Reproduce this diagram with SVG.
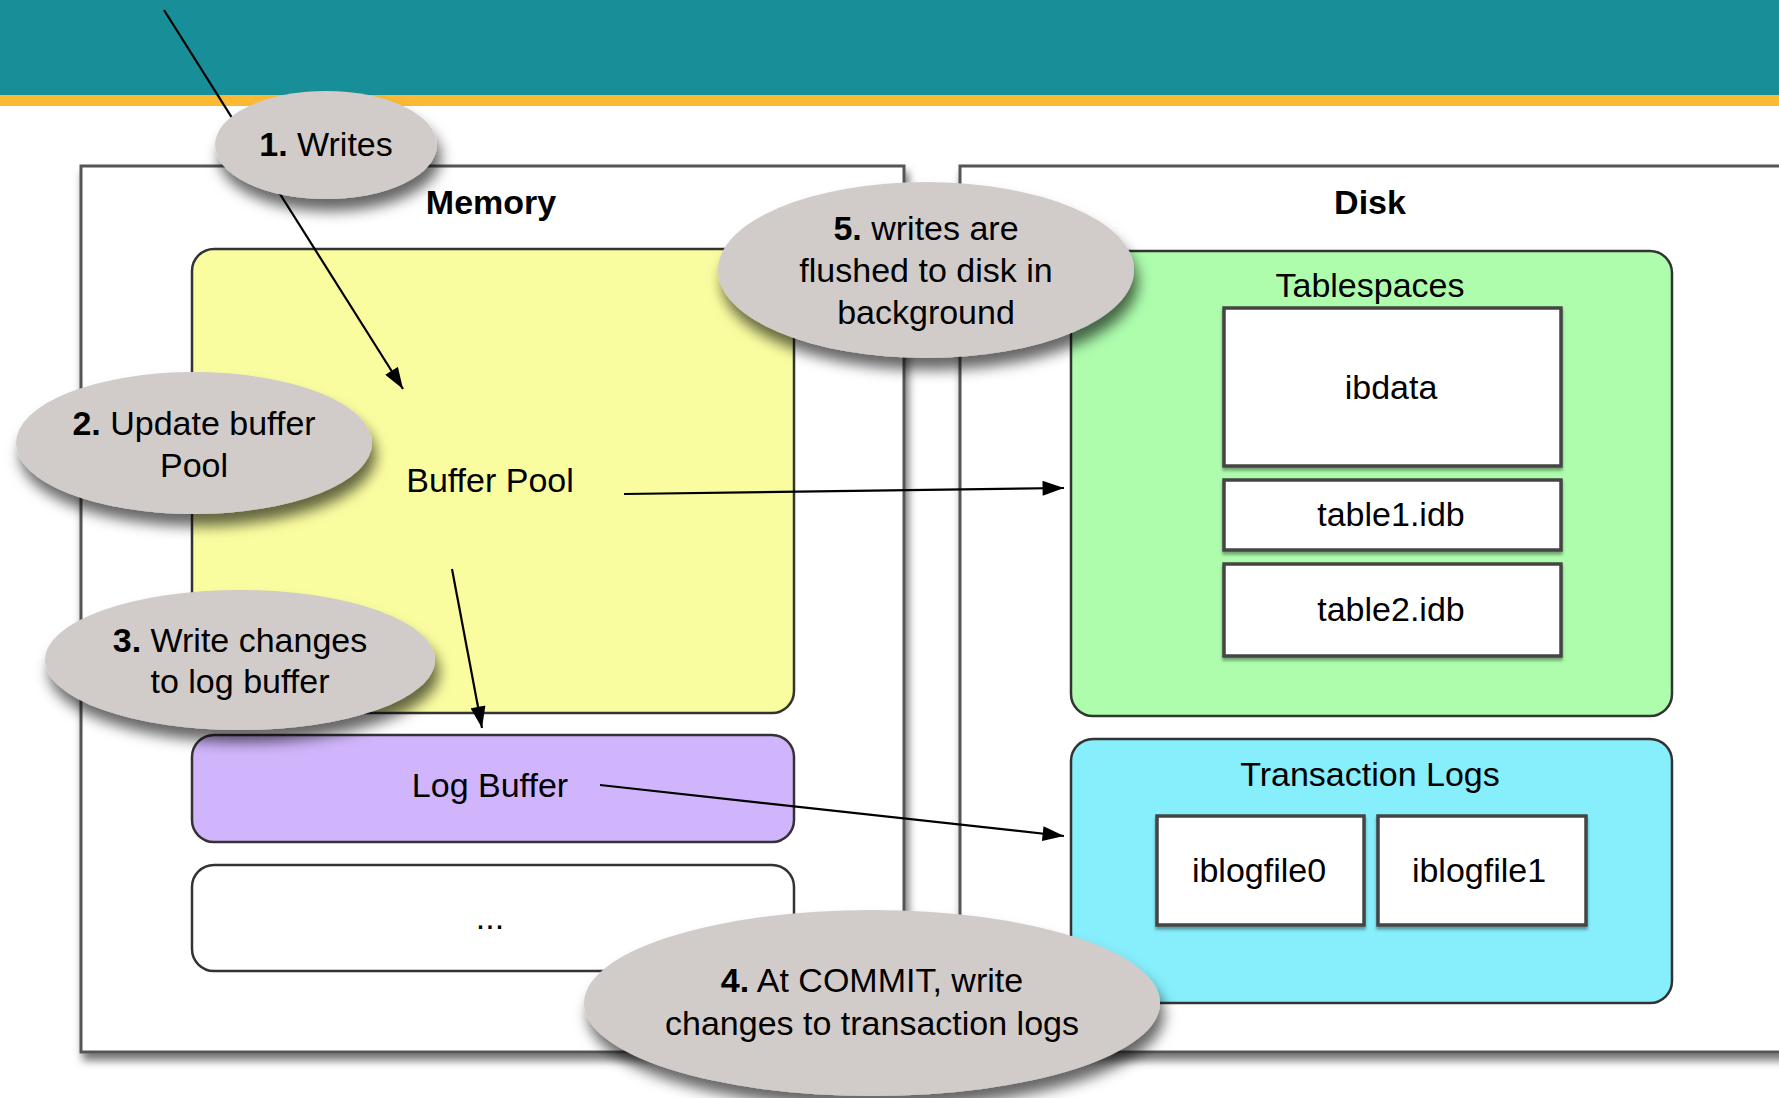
<svg xmlns="http://www.w3.org/2000/svg" width="1779" height="1098" viewBox="0 0 1779 1098">
<style>
text{font-family:"Liberation Sans",Arial,sans-serif;font-size:34px;fill:#000;text-anchor:middle}
.b{font-weight:bold}
.outer{fill:#fff;stroke:#555;stroke-width:3}
.inner{stroke:#333;stroke-width:2.5}
.file{fill:#fff;stroke:#444;stroke-width:3.5}
.bubble{fill:#d1ccc9}
.conn{stroke:#000;stroke-width:2.2;fill:none}
</style>
<defs>
<filter id="shBox" x="-5%" y="-5%" width="115%" height="115%">
<feDropShadow dx="3" dy="7" stdDeviation="4" flood-color="#000" flood-opacity="0.55"/>
</filter>
<filter id="shBub" x="-20%" y="-20%" width="150%" height="160%">
<feDropShadow dx="4" dy="12" stdDeviation="7" flood-color="#000" flood-opacity="0.6"/>
</filter>
<filter id="shIn" x="-5%" y="-5%" width="110%" height="115%">
<feDropShadow dx="0" dy="3" stdDeviation="1.5" flood-color="#000" flood-opacity="0.35"/>
</filter>
<marker id="arr" viewBox="0 0 20 14" refX="20" refY="7" markerWidth="22" markerHeight="15" markerUnits="userSpaceOnUse" orient="auto">
<path d="M0,0 L20,7 L0,14 z" fill="#000"/>
</marker>
</defs>

<g id="header">
<rect x="0" y="0" width="1779" height="95" fill="#188f98"/>
<rect x="0" y="95" width="1779" height="11" fill="#fbb934"/>
</g>

<g id="memory">
<rect class="outer" x="81" y="166" width="823" height="886" filter="url(#shBox)"/>
<text class="b" x="491" y="214">Memory</text>
</g>
<g id="disk">
<rect class="outer" x="960" y="166" width="840" height="886" filter="url(#shBox)"/>
<text class="b" x="1370" y="214">Disk</text>
</g>

<g id="buffer-pool">
<rect class="inner" x="192" y="249" width="602" height="464" rx="22" fill="#fafd9f"/>
<text x="490" y="492">Buffer Pool</text>
</g>
<g id="log-buffer">
<rect class="inner" x="192" y="735" width="602" height="107" rx="22" fill="#d1b5fc"/>
<text x="490" y="797">Log Buffer</text>
</g>
<g id="other">
<rect class="inner" x="192" y="865" width="602" height="106" rx="22" fill="#fff"/>
<text x="490" y="929">...</text>
</g>

<g id="tablespaces">
<rect class="inner" x="1071" y="251" width="601" height="465" rx="22" fill="#adfdad"/>
<text x="1370" y="297">Tablespaces</text>
</g>
<g id="ibdata">
<rect class="file" x="1224" y="308" width="337" height="158" filter="url(#shIn)"/>
<text x="1391" y="399">ibdata</text>
</g>
<g id="table1">
<rect class="file" x="1224" y="480" width="337" height="70" filter="url(#shIn)"/>
<text x="1391" y="526">table1.idb</text>
</g>
<g id="table2">
<rect class="file" x="1224" y="564" width="337" height="92" filter="url(#shIn)"/>
<text x="1391" y="621">table2.idb</text>
</g>

<g id="transaction-logs">
<rect class="inner" x="1071" y="739" width="601" height="264" rx="22" fill="#87eefc"/>
<text x="1370" y="786">Transaction Logs</text>
</g>
<g id="iblogfile0">
<rect class="file" x="1157" y="816" width="207" height="109" filter="url(#shIn)"/>
<text x="1259" y="882">iblogfile0</text>
</g>
<g id="iblogfile1">
<rect class="file" x="1378" y="816" width="208" height="109" filter="url(#shIn)"/>
<text x="1479" y="882">iblogfile1</text>
</g>

<g id="connectors">
<line class="conn" x1="164" y1="10" x2="403" y2="389" marker-end="url(#arr)"/>
<line class="conn" x1="624" y1="494" x2="1064" y2="488" marker-end="url(#arr)"/>
<line class="conn" x1="452" y1="569" x2="482" y2="728" marker-end="url(#arr)"/>
<line class="conn" x1="600" y1="785" x2="1064" y2="836" marker-end="url(#arr)"/>
</g>

<g id="step1">
<ellipse class="bubble" cx="326" cy="145" rx="111" ry="54" filter="url(#shBub)"/>
<text x="326" y="156"><tspan class="b">1.</tspan> Writes</text>
</g>
<g id="step5">
<ellipse class="bubble" cx="926" cy="270" rx="208" ry="88" filter="url(#shBub)"/>
<text x="926" y="240"><tspan class="b">5.</tspan> writes are</text>
<text x="926" y="282">flushed to disk in</text>
<text x="926" y="324">background</text>
</g>
<g id="step2">
<ellipse class="bubble" cx="194" cy="443" rx="178" ry="71" filter="url(#shBub)"/>
<text x="194" y="435"><tspan class="b">2.</tspan> Update buffer</text>
<text x="194" y="477">Pool</text>
</g>
<g id="step3">
<ellipse class="bubble" cx="240" cy="660" rx="195" ry="70" filter="url(#shBub)"/>
<text x="240" y="652"><tspan class="b">3.</tspan> Write changes</text>
<text x="240" y="693">to log buffer</text>
</g>
<g id="step4">
<ellipse class="bubble" cx="872" cy="1003" rx="288" ry="93" filter="url(#shBub)"/>
<text x="872" y="992"><tspan class="b">4.</tspan> At COMMIT, write</text>
<text x="872" y="1035">changes to transaction logs</text>
</g>
</svg>
